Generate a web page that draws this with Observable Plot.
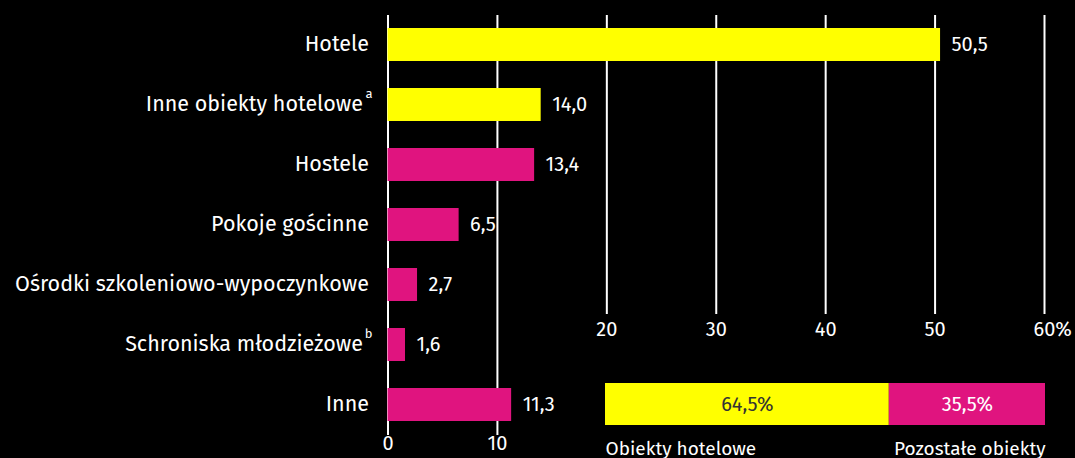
<!DOCTYPE html>
<html><head><meta charset="utf-8">
<script src="https://cdn.jsdelivr.net/npm/d3@7"></script>
<script src="https://cdn.jsdelivr.net/npm/@observablehq/plot@0.6"></script>
<style>
html,body{margin:0;padding:0;background:#000;}
#wrap{position:relative;width:1075px;height:458px;background:#000;}
#wrap svg{position:absolute;left:0;top:0;}
</style></head><body><div id="wrap"></div>
<script>
const categories = ["Hotele","Inne obiekty hotelowe","Hostele","Pokoje gościnne","Ośrodki szkoleniowo-wypoczynkowe","Schroniska młodzieżowe","Inne"];
const superscripts = ["","a","","","","b",""];
const values = [50.5,14.0,13.4,6.5,2.7,1.6,11.3];
const groups = ["hotel","hotel","other","other","other","other","other"];
const lowerTicks = [0,10];
const upperTicks = [20,30,40,50];
const lastTick = [60];
const shareLabels = ["Obiekty hotelowe","Pozostałe obiekty"];
const shareValues = [64.5,35.5];
const shareGroups = ["hotel","other"];

const YELLOW = "#FFFF00", MAGENTA = "#E0147F";
const font = "'Fira Sans','Noto Sans',sans-serif";
const fmt = v => v.toFixed(1).replace(".", ",");
const rows = categories.map((c,i)=>({category:c, sup:superscripts[i], value:values[i], group:groups[i]}));
const shares = shareLabels.map((l,i)=>({label:l, value:shareValues[i], group:shareGroups[i], row:"share"}));

const main = Plot.plot({
  width:1075, height:458, marginLeft:387.5, marginRight:31, marginTop:15, marginBottom:23,
  style:{background:"#000", color:"#fff", fontFamily:font, fontSize:"20px"},
  x:{domain:[0,60], axis:null},
  y:{domain:categories, range:[0,448], padding:0.45, axis:null},
  color:{domain:["hotel","other"], range:[YELLOW, MAGENTA]},
  marks:[
    Plot.ruleX(lowerTicks, {x:d=>d, stroke:"#fff", strokeWidth:2}),
    Plot.ruleX(upperTicks.concat(lastTick), {x:d=>d, stroke:"#fff", strokeWidth:2, insetBottom:121}),
    Plot.barX(rows, {x:"value", y:"category", fill:"group"}),
    Plot.text(rows, {x:"value", y:"category", text:d=>fmt(d.value), textAnchor:"start", dx:11, fill:"#fff"}),
    Plot.text(rows, {filter:d=>!d.sup, x:0, y:"category", text:"category", textAnchor:"end", dx:-19, dy:-1, fontSize:21.5, fill:"#fff"}),
    Plot.text(rows, {filter:d=>d.sup, x:0, y:"category", text:"category", textAnchor:"end", dx:-25, dy:-1, fontSize:21.5, fill:"#fff"}),
    Plot.text(rows, {filter:d=>d.sup, x:0, y:"category", text:"sup", textAnchor:"end", dx:-15.5, dy:-11, fontSize:13, fill:"#fff"}),
    Plot.text(lowerTicks, {x:d=>d, frameAnchor:"bottom", dy:14, text:d=>String(d), fill:"#fff"}),
    Plot.text(upperTicks, {x:d=>d, frameAnchor:"bottom", dy:-100, text:d=>String(d), fill:"#fff"}),
    Plot.text(lastTick, {x:d=>d, frameAnchor:"bottom", dy:-100, dx:-11, textAnchor:"start", text:d=>d+"%", fill:"#fff"})
  ]
});

const inset = Plot.plot({
  width:1075, height:458, margin:0,
  style:{background:"transparent", color:"#fff", fontFamily:font, fontSize:"20px"},
  x:{domain:[0,100], range:[605,1045], axis:null},
  y:{domain:["share"], range:[383,425], padding:0, axis:null},
  color:{domain:["hotel","other"], range:[YELLOW, MAGENTA]},
  marks:[
    Plot.barX(shares, Plot.stackX({x:"value", y:"row", fill:"group"})),
    Plot.text(shares, Plot.filter(d=>d.group==="hotel", Plot.stackX({x:"value", y:"row", text:d=>fmt(d.value)+"%", fill:"#333"}))),
    Plot.text(shares, Plot.filter(d=>d.group==="other", Plot.stackX({x:"value", y:"row", text:d=>fmt(d.value)+"%", fill:"#fff"}))),
    Plot.text(shares, {filter:d=>d.group==="hotel", x:0, y:"row", dy:44, text:"label", textAnchor:"start", fontSize:19, fill:"#fff"}),
    Plot.text(shares, {filter:d=>d.group==="other", x:100, y:"row", dy:44, text:"label", textAnchor:"end", fontSize:19, fill:"#fff"})
  ]
});

const wrap = document.getElementById("wrap");
wrap.appendChild(main);
wrap.appendChild(inset);
</script></body></html>
